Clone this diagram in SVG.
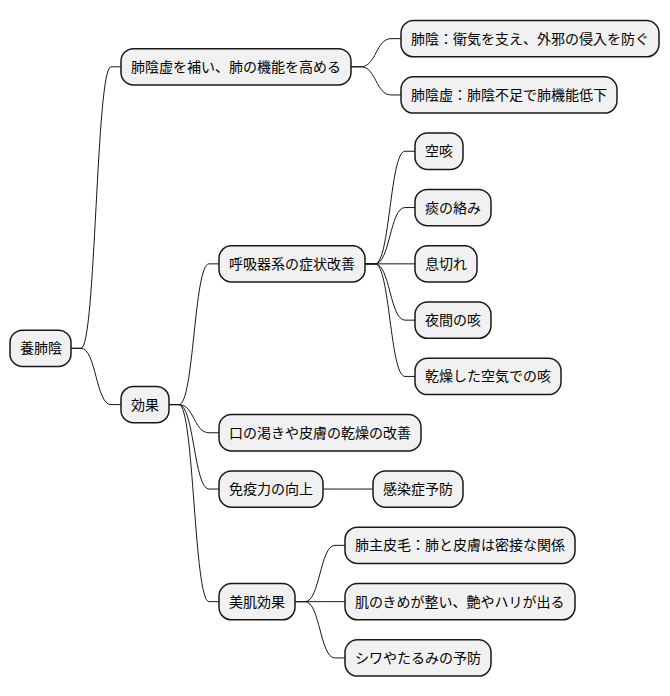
<svg xmlns="http://www.w3.org/2000/svg" width="670" height="696" viewBox="0 0 670 696">
<style>
.n rect{fill:#F1F1F1;stroke:#181818;stroke-width:1.5}
.n text{font-family:"Noto Sans CJK JP","Noto Sans CJK SC",sans-serif;font-size:14px;fill:#000000}
#links path{fill:none;stroke:#181818;stroke-width:1}
</style>
<rect width="670" height="696" fill="#FFFFFF"/>
<g id="links">
<path d="M71,348.3 L81,348.3 C96,348.3 96,66.8 111,66.8 L121,66.8"/>
<path d="M71,348.3 L81,348.3 C96,348.3 96,404.6 111,404.6 L121,404.6"/>
<path d="M351,66.8 L361,66.8 C376,66.8 376,38.65 391,38.65 L401,38.65"/>
<path d="M351,66.8 L361,66.8 C376,66.8 376,94.95 391,94.95 L401,94.95"/>
<path d="M169,404.6 L179,404.6 C194,404.6 194,263.85 209,263.85 L219,263.85"/>
<path d="M169,404.6 L179,404.6 C194,404.6 194,432.75 209,432.75 L219,432.75"/>
<path d="M169,404.6 L179,404.6 C194,404.6 194,489.05 209,489.05 L219,489.05"/>
<path d="M169,404.6 L179,404.6 C194,404.6 194,601.65 209,601.65 L219,601.65"/>
<path d="M365,263.85 L375,263.85 C390,263.85 390,151.25 405,151.25 L415,151.25"/>
<path d="M365,263.85 L375,263.85 C390,263.85 390,207.55 405,207.55 L415,207.55"/>
<path d="M365,263.85 L375,263.85 C390,263.85 390,263.85 405,263.85 L415,263.85"/>
<path d="M365,263.85 L375,263.85 C390,263.85 390,320.15 405,320.15 L415,320.15"/>
<path d="M365,263.85 L375,263.85 C390,263.85 390,376.45 405,376.45 L415,376.45"/>
<path d="M323,489.05 L333,489.05 C348,489.05 348,489.05 363,489.05 L373,489.05"/>
<path d="M295,601.65 L305,601.65 C320,601.65 320,545.35 335,545.35 L345,545.35"/>
<path d="M295,601.65 L305,601.65 C320,601.65 320,601.65 335,601.65 L345,601.65"/>
<path d="M295,601.65 L305,601.65 C320,601.65 320,657.95 335,657.95 L345,657.95"/>
</g>
<g id="root" class="n"><rect x="10" y="330.15" width="61" height="36.3" rx="12.5"/><text x="20" y="353.3">養肺陰</text></g>
<g id="n_main" class="n"><rect x="121" y="48.65" width="230" height="36.3" rx="12.5"/><text x="131" y="71.8">肺陰虚を補い、肺の機能を高める</text></g>
<g id="n_a1" class="n"><rect x="401" y="20.5" width="258" height="36.3" rx="12.5"/><text x="411" y="43.65">肺陰：衛気を支え、外邪の侵入を防ぐ</text></g>
<g id="n_a2" class="n"><rect x="401" y="76.8" width="216" height="36.3" rx="12.5"/><text x="411" y="99.95">肺陰虚：肺陰不足で肺機能低下</text></g>
<g id="n_effect" class="n"><rect x="121" y="386.45" width="48" height="36.3" rx="12.5"/><text x="131" y="409.6">効果</text></g>
<g id="n_resp" class="n"><rect x="219" y="245.7" width="146" height="36.3" rx="12.5"/><text x="229" y="268.85">呼吸器系の症状改善</text></g>
<g id="n_b1" class="n"><rect x="415" y="133.1" width="48" height="36.3" rx="12.5"/><text x="425" y="156.25">空咳</text></g>
<g id="n_b2" class="n"><rect x="415" y="189.4" width="76" height="36.3" rx="12.5"/><text x="425" y="212.55">痰の絡み</text></g>
<g id="n_b3" class="n"><rect x="415" y="245.7" width="62" height="36.3" rx="12.5"/><text x="425" y="268.85">息切れ</text></g>
<g id="n_b4" class="n"><rect x="415" y="302" width="76" height="36.3" rx="12.5"/><text x="425" y="325.15">夜間の咳</text></g>
<g id="n_b5" class="n"><rect x="415" y="358.3" width="146" height="36.3" rx="12.5"/><text x="425" y="381.45">乾燥した空気での咳</text></g>
<g id="n_c" class="n"><rect x="219" y="414.6" width="202" height="36.3" rx="12.5"/><text x="229" y="437.75">口の渇きや皮膚の乾燥の改善</text></g>
<g id="n_imm" class="n"><rect x="219" y="470.9" width="104" height="36.3" rx="12.5"/><text x="229" y="494.05">免疫力の向上</text></g>
<g id="n_inf" class="n"><rect x="373" y="470.9" width="90" height="36.3" rx="12.5"/><text x="383" y="494.05">感染症予防</text></g>
<g id="n_skin" class="n"><rect x="219" y="583.5" width="76" height="36.3" rx="12.5"/><text x="229" y="606.65">美肌効果</text></g>
<g id="n_e1" class="n"><rect x="345" y="527.2" width="230" height="36.3" rx="12.5"/><text x="355" y="550.35">肺主皮毛：肺と皮膚は密接な関係</text></g>
<g id="n_e2" class="n"><rect x="345" y="583.5" width="230" height="36.3" rx="12.5"/><text x="355" y="606.65">肌のきめが整い、艶やハリが出る</text></g>
<g id="n_e3" class="n"><rect x="345" y="639.8" width="146" height="36.3" rx="12.5"/><text x="355" y="662.95">シワやたるみの予防</text></g>
</svg>
